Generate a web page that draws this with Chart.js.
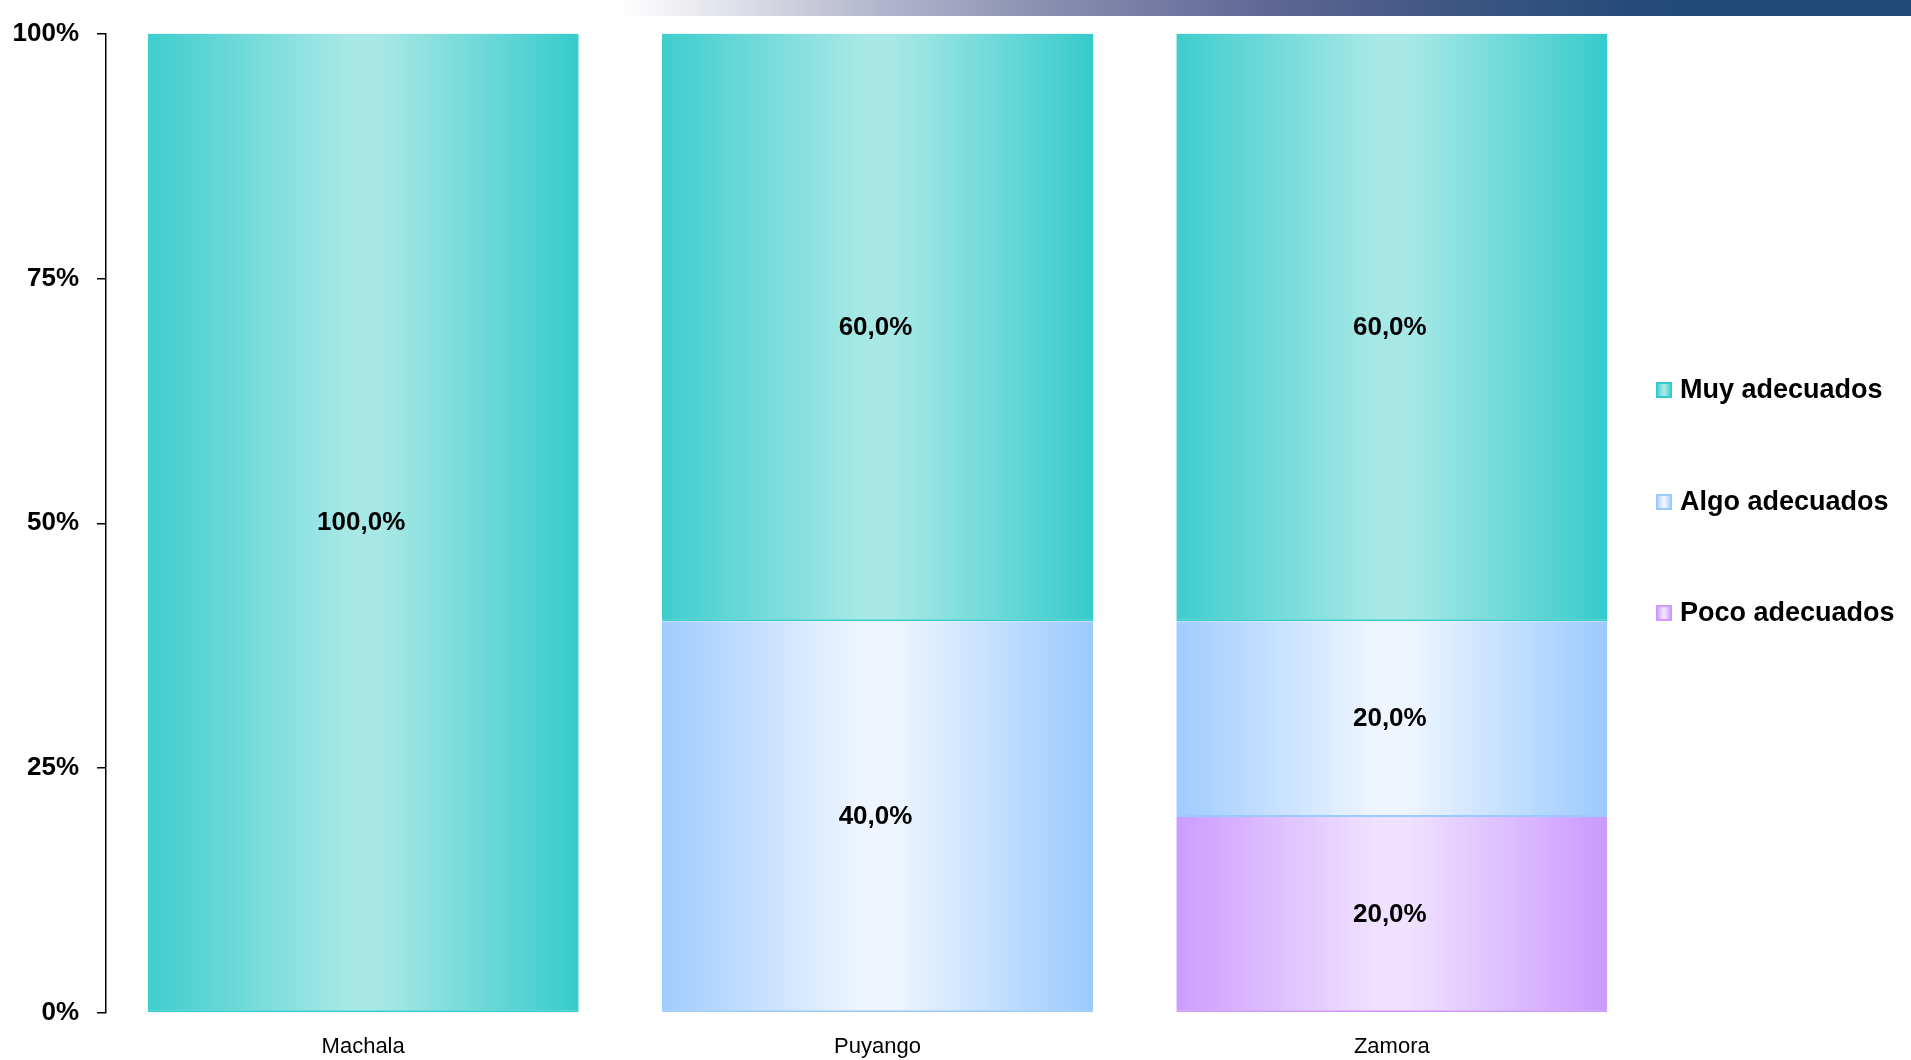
<!DOCTYPE html>
<html><head><meta charset="utf-8">
<script src="https://cdn.jsdelivr.net/npm/chart.js@4.4.1/dist/chart.umd.min.js"></script>
<style>
html,body{margin:0;padding:0;background:#fff;overflow:hidden}
#wrap{position:relative;width:1911px;height:1060px}
#banner{position:absolute;left:620px;top:0;width:1291px;height:16px;background:linear-gradient(90deg,#ffffff 0%,#e2e3ea 8%,#b3b6cd 20%,#8a8fb0 33%,#5f6795 50%,#3d5583 65%,#234a79 80%,#1f4a78 100%)}
canvas{position:absolute;left:0;top:0}
</style></head><body>
<div id="wrap"><div id="banner"></div><canvas id="c" width="1911" height="1060"></canvas></div>
<script>
const categories = ['Machala', 'Puyango', 'Zamora'];
const muyAdecuados = [100, 60, 60];
const algoAdecuados = [0, 40, 20];
const pocoAdecuados = [0, 0, 20];
const seriesNames = ['Muy adecuados', 'Algo adecuados', 'Poco adecuados'];
const yTickValues = [0, 25, 50, 75, 100];

const FONT = '"Liberation Sans", Arial, Helvetica, sans-serif';
const BAR_PCT = 0.838;
const palette = {
  muy:  { edge: '#36cbcb', left: '#3ecdcd', mid: '#a7e8e6' },
  algo: { edge: '#9acaff', left: '#9fccff', mid: '#eef5ff' },
  poco: { edge: '#cb99ff', left: '#cd9cff', mid: '#efe1ff' }
};

function makeGrad(c, x0, x1, p) {
  const g = c.createLinearGradient(x0, 0, x1, 0);
  g.addColorStop(0, p.left);
  g.addColorStop(0.46, p.mid);
  g.addColorStop(0.54, p.mid);
  g.addColorStop(1, p.edge);
  return g;
}

function barFill(p) {
  return (ctx) => {
    const chart = ctx.chart;
    const xs = chart.scales && chart.scales.x;
    if (!xs || ctx.dataIndex == null || !chart.chartArea) return p.edge;
    const cx = xs.getPixelForValue(ctx.dataIndex);
    const w = xs.width / categories.length * BAR_PCT;
    return makeGrad(chart.ctx, cx - w / 2, cx + w / 2, p);
  };
}

const valueLabels = {
  id: 'valueLabels',
  afterDatasetsDraw(chart) {
    const c = chart.ctx;
    c.save();
    c.font = 'bold 26px ' + FONT;
    c.fillStyle = '#000';
    c.textAlign = 'center';
    c.textBaseline = 'middle';
    chart.data.datasets.forEach((ds, di) => {
      const meta = chart.getDatasetMeta(di);
      meta.data.forEach((el, i) => {
        const v = ds.data[i];
        if (!v) return;
        c.fillText(v.toFixed(1).replace('.', ',') + '%', el.x - 2, (el.y + el.base) / 2);
      });
    });
    c.restore();
  }
};

const sideLegend = {
  id: 'sideLegend',
  afterDraw(chart) {
    const c = chart.ctx;
    const items = [
      { name: seriesNames[0], p: palette.muy, y: 390 },
      { name: seriesNames[1], p: palette.algo, y: 502 },
      { name: seriesNames[2], p: palette.poco, y: 613 }
    ];
    c.save();
    items.forEach(it => {
      const bx = 1656, by = it.y - 8, s = 16;
      c.fillStyle = makeGrad(c, bx, bx + s, it.p);
      c.fillRect(bx, by, s, s);
      c.strokeStyle = it.p.edge;
      c.lineWidth = 2;
      c.strokeRect(bx + 1, by + 1, s - 2, s - 2);
      c.fillStyle = '#000';
      c.font = 'bold 27px ' + FONT;
      c.textAlign = 'left';
      c.textBaseline = 'middle';
      c.fillText(it.name, 1680, it.y + 1);
    });
    c.restore();
  }
};

function ds(name, data, p) {
  return {
    label: name, data,
    backgroundColor: barFill(p),
    borderColor: p.edge,
    borderWidth: { top: 0, left: 0, right: 0, bottom: 2 },
    borderSkipped: false
  };
}

new Chart(document.getElementById('c'), {
  type: 'bar',
  data: {
    labels: categories,
    datasets: [
      ds(seriesNames[2], pocoAdecuados, palette.poco),
      ds(seriesNames[1], algoAdecuados, palette.algo),
      ds(seriesNames[0], muyAdecuados, palette.muy)
    ]
  },
  options: {
    responsive: false,
    animation: false,
    layout: { autoPadding: false, padding: { left: 0, right: 262, top: 28, bottom: 0 } },
    datasets: { bar: { categoryPercentage: 1, barPercentage: BAR_PCT } },
    plugins: { legend: { display: false }, tooltip: { enabled: false } },
    scales: {
      x: {
        stacked: true,
        afterFit(s) { s.height = 47; },
        grid: { display: false, drawTicks: false },
        border: { display: false },
        ticks: { color: '#000', font: { family: FONT, size: 22 }, padding: 21 }
      },
      y: {
        stacked: true,
        min: 0, max: 100,
        afterFit(s) { s.width = 106; },
        afterBuildTicks(s) { s.ticks = yTickValues.map(v => ({ value: v })); },
        ticks: { color: '#000', font: { family: FONT, size: 26, weight: 'bold' }, padding: 18, callback: v => v + '%' },
        grid: { drawOnChartArea: false, drawTicks: true, tickLength: 9, color: '#000', lineWidth: 1.5 },
        border: { display: true, color: '#000', width: 1.5 }
      }
    }
  },
  plugins: [valueLabels, sideLegend]
});
</script>
</body></html>
